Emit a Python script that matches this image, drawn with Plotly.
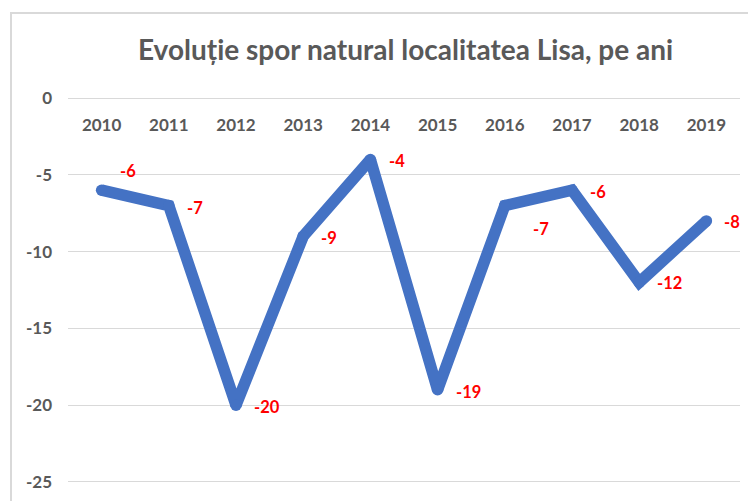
import plotly.graph_objects as go

years = ["2010", "2011", "2012", "2013", "2014", "2015", "2016", "2017", "2018", "2019"]
values = [-6, -7, -20, -9, -4, -19, -7, -6, -12, -8]
y_ticks = [0, -5, -10, -15, -20, -25]
y_tick_text = ["0", "-5", "-10", "-15", "-20", "-25"]

# label offsets (pixels) relative to each point
label_dx = [16, 16, 16, 16, 17, 16, 26, 16, 16, 16]
label_dy = [19, -2, -2, -2, -2, -2, -23, -2, -1, -1]

fig = go.Figure()
fig.add_trace(go.Scatter(
    x=years, y=values, mode="lines+markers",
    line=dict(color="#4472C4", width=11.5),
    marker=dict(color="#4472C4", size=11.5, line=dict(width=0)),
    cliponaxis=False, showlegend=False, hoverinfo="skip",
))

for i, (v, dx, dy) in enumerate(zip(values, label_dx, label_dy)):
    fig.add_annotation(x=i, y=v, xref="x", yref="y", text=str(v), showarrow=False,
                       xanchor="left", yanchor="middle", xshift=dx, yshift=dy,
                       font=dict(color="#FF0000", size=16.5, family="Lato", weight="bold"))

fig.update_layout(
    width=748, height=501,
    margin=dict(l=68, r=8, t=95, b=16),
    paper_bgcolor="white", plot_bgcolor="white",
    title=dict(text="Evoluție spor natural localitatea Lisa, pe ani",
               x=405.5 / 748, xanchor="center", y=1 - 50 / 501, yanchor="middle",
               font=dict(family="Lato", size=28, color="#595959", weight="bold")),
    xaxis=dict(type="category", categoryorder="array", categoryarray=years,
               range=[-0.5, len(years) - 0.5],
               anchor="free", position=1 - 3 / 390, side="bottom",
               showgrid=False, showline=False, ticks="", automargin=False,
               ticklabelstandoff=15,
               tickfont=dict(family="Lato", size=17, color="#595959", weight="bold")),
    yaxis=dict(range=[-25.2, 0.2], tickvals=y_ticks, ticktext=y_tick_text,
               showgrid=True, gridcolor="#D9D9D9",
               gridwidth=1.3, zeroline=False, showline=False, ticks="",
               automargin=False, ticklabelstandoff=15,
               tickfont=dict(family="Lato", size=17, color="#595959", weight="bold")),
    shapes=[dict(type="rect", xref="paper", yref="paper",
                 x0=(11 - 68) / 672, x1=1.2, y0=-0.3, y1=(485 - 13) / 390,
                 line=dict(color="#D9D9D9", width=2), layer="below")],
)

fig.write_html("out.html", config={"displayModeBar": False},
               post_script="document.body.style.margin='0';")
